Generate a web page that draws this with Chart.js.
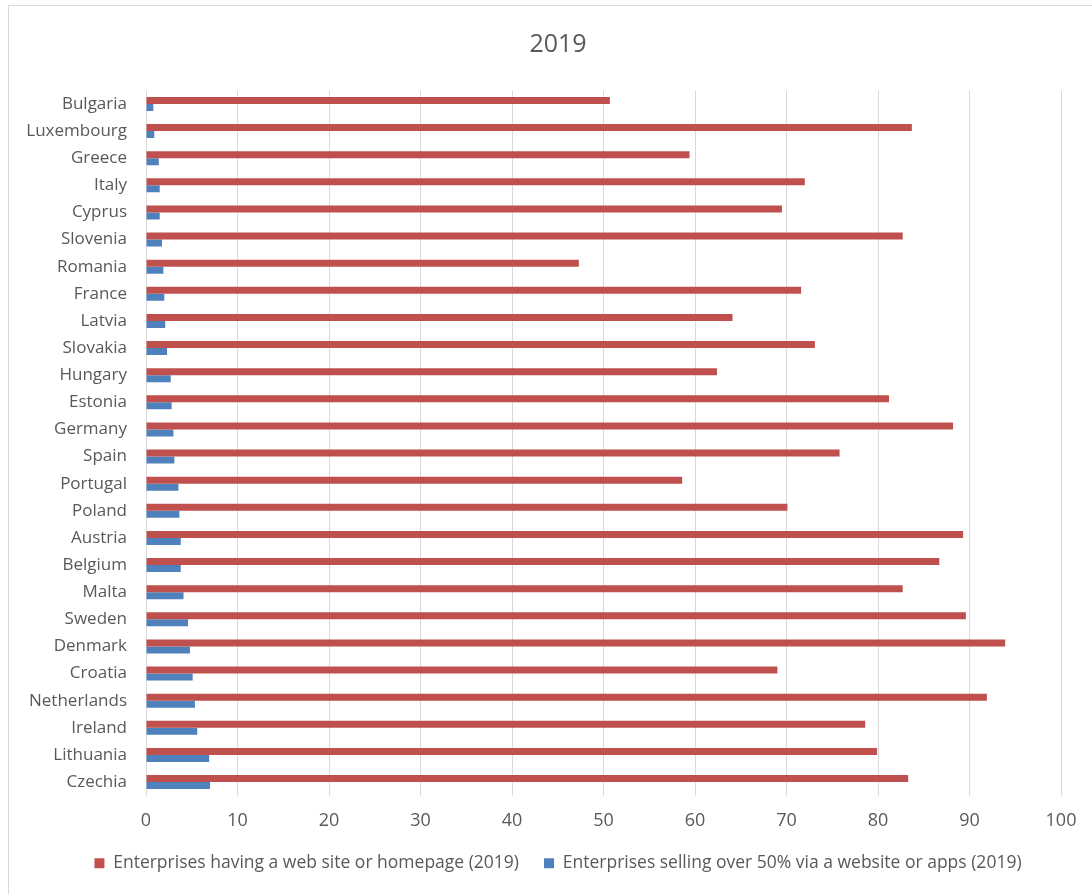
<!DOCTYPE html>
<html>
<head>
<meta charset="utf-8">
<title>2019</title>
<script src="https://cdn.jsdelivr.net/npm/chart.js@4.4.1/dist/chart.umd.min.js"></script>
<style>
  html, body { margin: 0; padding: 0; background: #fff; overflow: hidden; }
  #frame {
    position: absolute; left: 8px; top: 5px;
    width: 1200px; height: 1000px;
    border: 1px solid #d9d9d9;
  }
  #chart { position: absolute; left: 0; top: 0; }
</style>
</head>
<body>
<div id="frame"></div>
<canvas id="chart" width="1092" height="894"></canvas>
<script>
// Países ordenados por ventas web
const countries = [
    'Bulgaria', 'Luxembourg', 'Greece', 'Italy', 'Cyprus', 'Slovenia', 'Romania',
    'France', 'Latvia', 'Slovakia', 'Hungary', 'Estonia', 'Germany', 'Spain',
    'Portugal', 'Poland', 'Austria', 'Belgium', 'Malta', 'Sweden', 'Denmark',
    'Croatia', 'Netherlands', 'Ireland', 'Lithuania', 'Czechia'
];

// % de empresas con web
const websiteShare = [
    50.7, 83.7, 59.4, 72.0, 69.5, 82.7, 47.3, 71.6, 64.1, 73.1, 62.4, 81.2, 88.2,
    75.8, 58.6, 70.1, 89.3, 86.7, 82.7, 89.6, 93.9, 69.0, 91.9, 78.6, 79.9, 83.3
];

// % de empresas que venden más del 50% por web o apps
const webSalesShare = [
    0.8, 0.9, 1.4, 1.5, 1.5, 1.75, 1.9, 2.0, 2.1, 2.3, 2.7, 2.8, 3.0,
    3.1, 3.55, 3.65, 3.8, 3.8, 4.1, 4.6, 4.8, 5.1, 5.35, 5.6, 6.9, 7.0
];

const xTicks = [0, 10, 20, 30, 40, 50, 60, 70, 80, 90, 100];

const textColor = '#595959';

const ctx = document.getElementById('chart').getContext('2d');
new Chart(ctx, {
    type: 'bar',
    data: {
        labels: countries,
        datasets: [{
            label: 'Enterprises having a web site or homepage (2019)',
            data: websiteShare,
            backgroundColor: '#C0504D',
            borderWidth: 0
        }, {
            label: 'Enterprises selling over 50% via a website or apps (2019)',
            data: webSalesShare,
            backgroundColor: '#4F81BD',
            borderWidth: 0
        }]
    },
    options: {
        indexAxis: 'y',
        responsive: false,
        animation: false,
        events: [],
        categoryPercentage: 0.516,
        barPercentage: 1.0,
        layout: {
            padding: { top: 20, left: 55, right: 31, bottom: 12 }
        },
        plugins: {
            title: {
                display: true,
                text: '2019',
                color: textColor,
                font: { family: 'Open Sans', size: 25, weight: 'normal' },
                padding: { top: 10, bottom: 30.4 }
            },
            legend: {
                position: 'bottom',
                labels: {
                    color: textColor,
                    font: { family: 'Open Sans', size: 17.5 },
                    boxWidth: 10,
                    boxHeight: 10,
                    padding: 25
                }
            },
            tooltip: { enabled: false }
        },
        scales: {
            x: {
                min: 0,
                max: 100,
                afterBuildTicks: (scale) => {
                    scale.ticks = xTicks.map(v => ({ value: v }));
                },
                afterFit: (scale) => { scale.height = 33.9; },
                grid: { color: '#d9d9d9', lineWidth: 1, drawTicks: false },
                border: { display: false },
                ticks: {
                    color: textColor,
                    font: { family: 'Open Sans', size: 18 },
                    padding: 14.6
                }
            },
            y: {
                afterFit: (scale) => {
                    scale.width = 91;
                    // los nombres largos sobresalen del ancho fijo del eje
                    scale._computeLabelArea = () => undefined;
                },
                grid: { display: false, drawTicks: false },
                border: { display: false },
                ticks: {
                    color: textColor,
                    font: { family: 'Open Sans', size: 17 },
                    padding: 19,
                    autoSkip: false
                }
            }
        }
    }
});
</script>
</body>
</html>
